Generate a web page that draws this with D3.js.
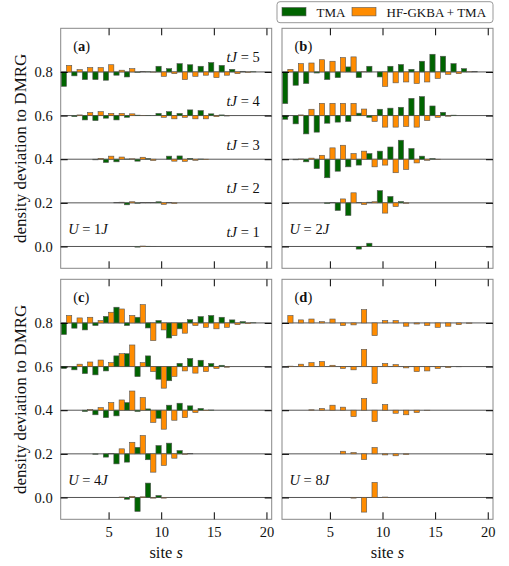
<!DOCTYPE html>
<html>
<head>
<meta charset="utf-8">
<script src="https://cdnjs.cloudflare.com/ajax/libs/d3/7.8.5/d3.min.js"></script>
<style>
body { margin: 0; background: #fff; }
svg text { font-family: 'Liberation Serif', 'DejaVu Serif', serif; fill: #111; }
</style>
</head>
<body>
<div id="svg"></div>
<script>
let sites = [1, 2, 3, 4, 5, 6, 7, 8, 9, 10, 11, 12, 13, 14, 15, 16, 17, 18, 19, 20]
let times = [1, 2, 3, 4, 5]
let offsets = [0, 0.2, 0.4, 0.6, 0.8]
let yTicks = [0, 0.2, 0.4, 0.6, 0.8]
let xTicks = [5, 10, 15, 20]
let panelNames = ['a', 'b', 'c', 'd']
let interactions = [1, 2, 4, 8]
let seriesNames = ['TMA', 'HF-GKBA + TMA']

// one row per tJ = 1..5, one value per site
let tmaU1 = [
	[0, 0, 0, 0, 0, 0, 0, -0.003, 0.001, 0, 0, 0, 0, 0, 0, 0, 0, 0, 0, 0],
	[0, 0, 0, 0, 0, 0.001, -0.009, -0.002, 0.001, 0.005, 0.002, 0, 0, 0, 0, 0, 0, 0, 0, 0],
	[0, 0, 0, -0.003, -0.015, -0.012, 0.001, -0.009, 0.003, 0, 0.014, 0.015, 0.004, 0.001, 0, 0, 0, 0, 0, 0],
	[0, -0.005, -0.02, -0.023, -0.012, -0.02, -0.008, 0.002, 0.001, 0.01, 0.018, 0.01, 0.026, 0.023, 0.008, 0.003, 0, 0, 0, 0],
	[-0.066, -0.018, -0.035, -0.035, -0.038, -0.015, -0.023, -0.002, 0.001, 0.026, 0.015, 0.038, 0.033, 0.026, 0.043, 0.03, 0.012, 0.003, 0.001, 0]
]
let hfU1 = [
	[0, 0, 0, 0, 0, 0, 0, 0.002, -0.001, 0, 0, 0, 0, 0, 0, 0, 0, 0, 0, 0],
	[0, 0, 0, 0, 0, 0.003, 0.005, 0.002, 0.002, -0.007, -0.003, 0, 0, 0, 0, 0, 0, 0, 0, 0],
	[0, 0, 0, 0.004, 0.014, 0.01, 0.002, 0.009, -0.006, 0, -0.009, -0.01, -0.005, -0.002, 0, 0, 0, 0, 0, 0],
	[0, 0.003, 0.014, 0.018, 0.01, 0.01, 0.008, 0.001, 0, -0.008, -0.015, -0.008, -0.015, -0.015, -0.005, -0.002, 0, 0, 0, 0],
	[0.03, 0.011, 0.02, 0.02, 0.033, 0.008, 0.015, 0.002, -0.001, -0.02, -0.008, -0.035, -0.02, -0.015, -0.026, -0.015, -0.008, -0.002, 0, 0]
]
let tmaU2 = [
	[0, 0, 0, 0, 0, 0, 0, -0.012, 0.015, 0, 0, 0, 0, 0, 0, 0, 0, 0, 0, 0],
	[0, 0, 0, 0, -0.003, -0.035, -0.058, 0.001, 0.003, 0.056, 0.029, 0.006, 0, 0, 0, 0, 0, 0, 0, 0],
	[0, -0.003, -0.012, -0.043, -0.085, -0.055, -0.035, -0.027, 0.026, 0.037, 0.056, 0.087, 0.049, 0.014, 0.003, 0, 0, 0, 0, 0],
	[-0.017, -0.038, -0.084, -0.076, -0.035, -0.03, -0.027, 0.011, -0.008, 0.029, 0.034, 0.038, 0.079, 0.087, 0.044, 0.015, 0.002, 0, 0, 0],
	[-0.145, -0.061, -0.053, -0.005, -0.035, -0.026, 0.023, -0.026, 0.026, -0.023, 0.026, 0.034, 0.012, 0.049, 0.081, 0.072, 0.038, 0.015, 0.002, 0]
]
let hfU2 = [
	[0, 0, 0, 0, 0, 0, 0, 0.001, 0, 0, 0, 0, 0, 0, 0, 0, 0, 0, 0, 0],
	[0, 0, 0, 0, 0.001, 0.018, 0.046, -0.008, 0.005, -0.047, -0.017, -0.002, 0, 0, 0, 0, 0, 0, 0, 0],
	[0, 0.001, 0.005, 0.018, 0.052, 0.064, 0.026, 0.037, -0.035, -0.027, -0.062, -0.047, -0.017, -0.005, -0.001, 0, 0, 0, 0, 0],
	[0, 0.003, 0.029, 0.056, 0.056, 0.056, 0.056, 0.03, -0.027, -0.053, -0.053, -0.05, -0.053, -0.023, -0.008, -0.003, 0, 0, 0, 0],
	[0.012, 0.038, 0.041, 0.056, 0.049, 0.066, 0.069, 0.001, 0, -0.066, -0.05, -0.046, -0.053, -0.046, -0.03, -0.011, -0.008, 0.001, 0, 0]
]
let tmaU4 = [
	[0, 0, 0, 0, 0, 0, -0.008, -0.064, 0.066, 0.009, 0, 0, 0, 0, 0, 0, 0, 0, 0, 0],
	[0, 0, 0, -0.002, -0.015, -0.046, -0.038, 0.03, -0.027, 0.038, 0.049, 0.015, 0.001, 0, 0, 0, 0, 0, 0, 0],
	[0, 0, -0.006, -0.021, -0.034, -0.026, 0.035, -0.006, 0.006, -0.037, 0.023, 0.032, 0.02, 0.008, 0.001, 0, 0, 0, 0, 0],
	[-0.009, -0.015, -0.032, -0.038, -0.02, 0.049, 0.059, -0.046, 0.049, -0.058, -0.065, 0.015, 0.037, 0.029, 0.014, 0.006, 0, 0, 0, 0],
	[-0.053, -0.024, -0.032, -0.012, 0.03, 0.072, -0.012, 0.026, -0.023, 0.011, -0.069, -0.027, 0.015, 0.029, 0.034, 0.026, 0.014, 0.006, 0.001, 0]
]
let hfU4 = [
	[0, 0, 0, 0, 0, 0.002, 0.005, 0.003, -0.003, -0.003, 0, 0, 0, 0, 0, 0, 0, 0, 0, 0],
	[0, 0, 0, 0, 0.002, 0.023, 0.053, 0.084, -0.084, -0.053, -0.02, -0.002, 0, 0, 0, 0, 0, 0, 0, 0],
	[0, 0, 0.003, 0.012, 0.035, 0.047, 0.088, 0.058, -0.056, -0.087, -0.046, -0.034, -0.011, -0.002, 0, 0, 0, 0, 0, 0],
	[-0.002, 0.011, 0.021, 0.03, 0.018, 0.059, 0.099, 0.018, -0.023, -0.099, -0.045, -0.02, -0.03, -0.023, -0.009, -0.003, 0, 0, 0, 0],
	[0.034, 0.023, 0.026, 0.011, 0.049, 0.064, 0.034, 0.084, -0.081, -0.032, -0.058, -0.047, -0.012, -0.02, -0.027, -0.02, -0.008, -0.003, 0, 0]
]
let tmaU8 = []
let hfU8 = [
	[0, 0, 0, 0, 0, 0, -0.003, -0.067, 0.069, 0.002, 0, 0, 0, 0, 0, 0, 0, 0, 0, 0],
	[0, 0, 0, 0, 0, 0.012, 0.006, -0.026, 0.029, -0.005, -0.009, -0.003, 0, 0, 0, 0, 0, 0, 0, 0],
	[0, 0, 0.002, 0.008, 0.023, 0.014, -0.029, 0.053, -0.052, 0.026, -0.014, -0.021, -0.011, -0.001, 0, 0, 0, 0, 0, 0],
	[0.002, 0.011, 0.018, 0.023, 0.006, -0.009, -0.015, 0.079, -0.078, 0.014, 0.009, -0.006, -0.023, -0.02, -0.009, -0.005, -0.001, 0, 0, 0],
	[0.034, 0.014, 0.018, 0.006, 0.018, -0.012, -0.009, 0.061, -0.058, 0.011, 0.011, -0.015, -0.005, -0.012, -0.02, -0.015, -0.008, -0.002, 0, 0]
]

let tmaData = [tmaU1, tmaU2, tmaU4, tmaU8]
let hfData = [hfU1, hfU2, hfU4, hfU8]

let green = '#006400', orange = '#ff8c00'
let width = 509, height = 566
let panelW = 211, panelH = 240
let colX = [60.7, 282], rowY = [28.3, 279.3]

let svg = d3.select('#svg')
.append('svg')
.attr('width', width)
.attr('height', height)

let xScale = d3.scaleLinear().domain([0.45, 20.5]).range([0, panelW])
let yScale = d3.scaleLinear().domain([-0.1, 1.0]).range([panelH, 0])

panelNames.forEach((name, p) => {
	let col = p % 2, row = Math.floor(p / 2)
	let g = svg.append('g')
	.attr('transform', `translate(${colX[col]}, ${rowY[row]})`)

	// baselines
	g.selectAll('.base')
	.data(offsets)
	.join('line')
	.attr('x1', 0).attr('x2', panelW)
	.attr('y1', d => yScale(d)).attr('y2', d => yScale(d))
	.style('stroke', '#555')
	.style('stroke-width', 1)

	// bars
	let series = [
		{rows: tmaData[p], color: green, shift: -0.5},
		{rows: hfData[p], color: orange, shift: 0}
	]
	series.forEach(ser => {
		ser.rows.forEach((vals, t) => {
			let off = offsets[t]
			g.append('g').selectAll('rect')
			.data(vals.map((v, i) => ({s: sites[i], v: v})))
			.join('rect')
			.attr('x', d => xScale(d.s + ser.shift))
			.attr('width', d => xScale(d.s + ser.shift + 0.5) - xScale(d.s + ser.shift))
			.attr('y', d => yScale(off + Math.max(d.v, 0)))
			.attr('height', d => Math.abs(yScale(off + d.v) - yScale(off)))
			.style('fill', ser.color)
			.style('stroke', '#555')
			.style('stroke-width', 0.6)
		})
	})

	// frame
	g.append('rect')
	.attr('width', panelW).attr('height', panelH)
	.style('fill', 'none')
	.style('stroke', '#888')
	.style('stroke-width', 1)

	let left = g.append('g').call(d3.axisLeft(yScale).tickValues(yTicks).tickSize(-7).tickPadding(8)
		.tickFormat(col == 0 ? d3.format('.1f') : ''))
	let right = g.append('g').attr('transform', `translate(${panelW}, 0)`)
	.call(d3.axisRight(yScale).tickValues(yTicks).tickSize(-7).tickFormat(''))
	let top = g.append('g').call(d3.axisTop(xScale).tickValues(xTicks).tickSize(-7).tickFormat(''))
	let bottom = g.append('g').attr('transform', `translate(0, ${panelH})`)
	.call(d3.axisBottom(xScale).tickValues(xTicks).tickSize(-7).tickPadding(7)
		.tickFormat(row == 1 ? d3.format('d') : ''))
	;[left, right, top, bottom].forEach(a => {
		a.select('.domain').remove()
		a.selectAll('line').style('stroke', '#000')
		a.selectAll('text').style('font-size', '14.5px').style('font-family', "'Liberation Serif', serif").style('fill', '#111')
	})

	// panel letter
	let lab = g.append('text')
	.attr('x', 12.5)
	.attr('y', yScale(0.895))
	.style('font-size', '14.5px')
	lab.append('tspan').text('(')
	lab.append('tspan').text(name).style('font-weight', 'bold')
	lab.append('tspan').text(')')

	// interaction label
	let ul = g.append('text')
	.attr('x', 7.5)
	.attr('y', yScale(0.057))
	.style('font-size', '14.5px')
	ul.append('tspan').text('U').style('font-style', 'italic')
	ul.append('tspan').text(` = ${interactions[p]}`)
	ul.append('tspan').text('J').style('font-style', 'italic')

	// time labels only in first panel
	if (p == 0) {
		times.forEach((t, i) => {
			let tl = g.append('text')
			.attr('x', panelW - 12)
			.attr('y', yScale(offsets[i] + 0.044))
			.style('text-anchor', 'end')
			.style('font-size', '14.5px')
			tl.append('tspan').text('tJ').style('font-style', 'italic')
			tl.append('tspan').text(` = ${t}`)
		})
	}

	if (col == 0) {
		svg.append('text')
		.text('density deviation to DMRG')
		.attr('transform', `translate(26, ${rowY[row] + panelH / 2})rotate(-90)`)
		.style('text-anchor', 'middle')
		.style('font-size', '17px')
	}
	if (row == 1) {
		let xl = svg.append('text')
		.attr('x', colX[col] + panelW / 2)
		.attr('y', 558)
		.style('text-anchor', 'middle')
		.style('font-size', '16.5px')
		xl.append('tspan').text('site ')
		xl.append('tspan').text('s').style('font-style', 'italic')
	}
})

// legend
let legend = svg.append('g')
legend.append('rect')
.attr('x', 277).attr('y', 1.7)
.attr('width', 216).attr('height', 21)
.attr('rx', 3)
.style('fill', '#fff')
.style('stroke', '#999')
let legendX = [282, 352]
seriesNames.forEach((name, i) => {
	legend.append('rect')
	.attr('x', legendX[i]).attr('y', 7.5)
	.attr('width', 24).attr('height', 8.4)
	.style('fill', i == 0 ? green : orange)
	.style('stroke', '#555')
	.style('stroke-width', 0.6)
	legend.append('text')
	.text(name)
	.attr('x', legendX[i] + 34.5)
	.attr('y', 16.7)
	.style('font-size', '13px')
})
</script>
</body>
</html>
